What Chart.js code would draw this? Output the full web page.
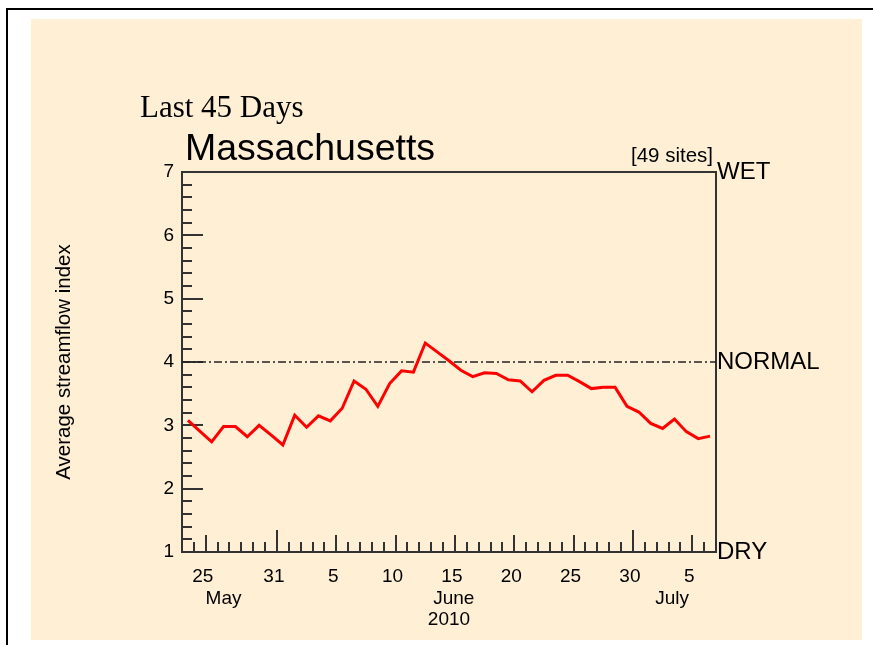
<!DOCTYPE html>
<html lang="en">
<head>
<meta charset="UTF-8">
<title>Massachusetts - Last 45 Days</title>
<script src="https://cdn.jsdelivr.net/npm/chart.js"></script>
<style>
    html, body {
        margin: 0;
        padding: 0;
        background: #fff;
    }
    body {
        width: 873px;
        height: 645px;
        position: relative;
        overflow: hidden;
    }
    .frame {
        position: absolute;
        left: 6px;
        top: 8px;
        right: 0;
        bottom: 0;
        border-top: 2px solid #000;
        border-left: 2px solid #000;
    }
    .panel {
        position: absolute;
        left: 31px;
        top: 19px;
        width: 831px;
        height: 621px;
        background: #ffefd5;
    }
    canvas {
        display: block;
    }
</style>
</head>
<body>
<div class="frame"></div>
<div class="panel">
    <canvas id="flowChart" width="831" height="621"></canvas>
</div>

<script>
    // daily average streamflow index, 23 May - 6 July 2010
    const startDate = '2010-05-23';
    const spanDays = 45;
    const streamflowIndex = [
        3.08, 2.91, 2.74, 2.98, 2.98, 2.82, 3.00, 2.85, 2.69, 3.16,
        2.97, 3.15, 3.07, 3.27, 3.70, 3.57, 3.30, 3.66, 3.86, 3.84,
        4.30, 4.16, 4.02, 3.87, 3.77, 3.83, 3.82, 3.72, 3.70, 3.53,
        3.71, 3.79, 3.79, 3.69, 3.58, 3.60, 3.60, 3.30, 3.21, 3.03,
        2.95, 3.10, 2.90, 2.79, 2.83
    ];
    const normalLevel = 4;
    const yMin = 1;
    const yMax = 7;

    // x ticks, in days from the start date
    const dayTickPos = [2, 8, 13, 18, 23, 28, 33, 38, 43];
    const dayTickLabels = ['25', '31', '5', '10', '15', '20', '25', '30', '5'];
    const monthEndPos = [8, 38];
    const monthLabelPos = [3.5, 22.9, 41.3];
    const monthLabels = ['May', 'June', 'July'];
    const yearLabelPos = [22.5];
    const yearLabels = ['2010'];

    const conditionPos = [1, 4, 7];
    const conditionLabels = ['DRY', 'NORMAL', 'WET'];

    const headline = 'Last 45 Days';
    const stateName = 'Massachusetts';
    const siteCount = 49;

    const SANS = '"Liberation Sans", Arial, Helvetica, sans-serif';
    const SERIF = '"Liberation Serif", "Times New Roman", serif';
    const AXIS = '#333';

    const tickMarks = {
        id: 'tickMarks',
        beforeDatasetsDraw(chart) {
            const { ctx, chartArea, scales } = chart;
            const x = scales.x, y = scales.y;
            ctx.save();
            ctx.strokeStyle = AXIS;
            ctx.lineWidth = 2;
            ctx.beginPath();
            for (let d = 1; d < spanDays; d++) {
                const px = Math.round(x.getPixelForValue(d));
                let len = 10;
                if (dayTickPos.includes(d)) len = 17;
                if (monthEndPos.includes(d)) len = 22;
                ctx.moveTo(px, chartArea.bottom);
                ctx.lineTo(px, chartArea.bottom - len);
            }
            for (let k = 1; k < (yMax - yMin) * 5; k++) {
                const py = Math.round(y.getPixelForValue(yMin + k * 0.2));
                const len = k % 5 === 0 ? 21 : 10;
                ctx.moveTo(chartArea.left, py);
                ctx.lineTo(chartArea.left + len, py);
            }
            ctx.stroke();
            ctx.restore();
        }
    };

    const headings = {
        id: 'headings',
        afterDraw(chart) {
            const { ctx, chartArea } = chart;
            ctx.save();
            ctx.fillStyle = '#000';
            ctx.textBaseline = 'alphabetic';
            ctx.textAlign = 'left';
            ctx.font = '31px ' + SERIF;
            ctx.fillText(headline, 109, 98);
            ctx.font = '37.5px ' + SANS;
            ctx.fillText(stateName, chartArea.left + 3, 141);
            ctx.textAlign = 'right';
            ctx.font = '20.5px ' + SANS;
            ctx.fillText('[' + siteCount + ' sites]', chartArea.right - 3, 143);
            ctx.restore();
        }
    };

    const ctx = document.getElementById('flowChart').getContext('2d');

    new Chart(ctx, {
        type: 'line',
        data: {
            datasets: [{
                label: 'Average streamflow index',
                data: streamflowIndex.map((v, i) => ({ x: i + 0.5, y: v })),
                borderColor: '#ff0000',
                borderWidth: 3,
                pointRadius: 0,
                tension: 0
            }, {
                label: 'Normal',
                data: [{ x: 0, y: normalLevel }, { x: spanDays, y: normalLevel }],
                borderColor: '#222',
                borderWidth: 1.5,
                borderDash: [8, 3, 2, 3],
                pointRadius: 0
            }]
        },
        options: {
            responsive: false,
            animation: false,
            devicePixelRatio: 1,
            layout: { padding: { top: 153, left: 0, right: 0, bottom: 0 } },
            plugins: {
                legend: { display: false },
                tooltip: { enabled: false }
            },
            scales: {
                x: {
                    type: 'linear',
                    position: 'bottom',
                    weight: 0,
                    min: 0,
                    max: spanDays,
                    afterBuildTicks: s => { s.ticks = dayTickPos.map(v => ({ value: v })); },
                    afterFit: s => { s.height = 34; },
                    grid: { display: false, drawTicks: false },
                    border: { display: true, color: AXIS, width: 2 },
                    ticks: {
                        autoSkip: false,
                        maxRotation: 0,
                        padding: 13,
                        labelOffset: -3,
                        color: '#000',
                        font: { family: SANS, size: 19 },
                        callback: (v, i) => dayTickLabels[i]
                    }
                },
                xMonth: {
                    type: 'linear',
                    position: 'bottom',
                    weight: 1,
                    min: 0,
                    max: spanDays,
                    afterBuildTicks: s => { s.ticks = monthLabelPos.map(v => ({ value: v })); },
                    afterFit: s => { s.height = 22; },
                    grid: { display: false, drawTicks: false },
                    border: { display: false },
                    ticks: {
                        autoSkip: false,
                        maxRotation: 0,
                        padding: 1,
                        color: '#000',
                        font: { family: SANS, size: 19 },
                        callback: (v, i) => monthLabels[i]
                    }
                },
                xYear: {
                    type: 'linear',
                    position: 'bottom',
                    weight: 2,
                    min: 0,
                    max: spanDays,
                    afterBuildTicks: s => { s.ticks = yearLabelPos.map(v => ({ value: v })); },
                    afterFit: s => { s.height = 32; },
                    grid: { display: false, drawTicks: false },
                    border: { display: false },
                    ticks: {
                        autoSkip: false,
                        maxRotation: 0,
                        padding: 0,
                        color: '#000',
                        font: { family: SANS, size: 19 },
                        callback: (v, i) => yearLabels[i]
                    }
                },
                xTop: {
                    type: 'linear',
                    position: 'top',
                    min: 0,
                    max: spanDays,
                    afterFit: s => { s.height = 0; },
                    grid: { display: false, drawTicks: false },
                    border: { display: true, color: AXIS, width: 2 },
                    ticks: { display: false }
                },
                y: {
                    position: 'left',
                    min: yMin,
                    max: yMax,
                    afterFit: s => { s.width = 151; },
                    grid: { display: false, drawTicks: false },
                    border: { display: true, color: AXIS, width: 2 },
                    ticks: {
                        stepSize: 1,
                        padding: 8,
                        color: '#000',
                        font: { family: SANS, size: 19 }
                    },
                    title: {
                        display: true,
                        text: 'Average streamflow index',
                        color: '#000',
                        font: { family: SANS, size: 20.5 },
                        padding: { top: 21, bottom: 0 }
                    }
                },
                yRight: {
                    position: 'right',
                    min: yMin,
                    max: yMax,
                    afterBuildTicks: s => { s.ticks = conditionPos.map(v => ({ value: v })); },
                    afterFit: s => { s.width = 146; },
                    grid: { display: false, drawTicks: false },
                    border: { display: true, color: AXIS, width: 2 },
                    ticks: {
                        autoSkip: false,
                        padding: 1,
                        color: '#000',
                        font: { family: SANS, size: 24 },
                        callback: (v, i) => conditionLabels[i]
                    }
                }
            }
        },
        plugins: [tickMarks, headings]
    });
</script>
</body>
</html>
